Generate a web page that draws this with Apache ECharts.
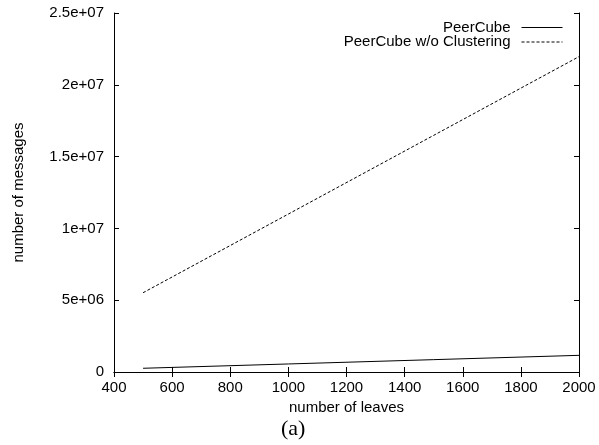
<!DOCTYPE html>
<html>
<head>
<meta charset="utf-8">
<script src="https://cdn.jsdelivr.net/npm/echarts@6/dist/echarts.min.js"></script>
<style>
html,body{margin:0;padding:0;background:#fff;}
#chart{width:599px;height:445px;}
</style>
</head>
<body>
<div id="chart"></div>
<script>
var leaves = [500, 1000, 1500, 2000];
var peerCube = [260000, 560000, 860000, 1160000];
var peerCubeNoClustering = [5520000, 11000000, 16480000, 21960000];
var xTicks = [400, 600, 800, 1000, 1200, 1400, 1600, 1800, 2000];
var yTickLabels = {0: '0', 5000000: '5e+06', 10000000: '1e+07', 15000000: '1.5e+07', 20000000: '2e+07', 25000000: '2.5e+07'};

var FONT = '"Liberation Sans", Arial, Helvetica, sans-serif';
var chart = echarts.init(document.getElementById('chart'), null, {renderer: 'canvas'});

function pairs(xs, ys) { return xs.map(function (x, i) { return [x, ys[i]]; }); }

var axisLine = {show: true, lineStyle: {color: '#000', width: 1}};
var tick = {show: true, inside: true, length: 5, lineStyle: {color: '#000', width: 1}};

var legendCommon = {
  right: 31, align: 'right', orient: 'vertical',
  itemWidth: 41, itemHeight: 14, selectedMode: false,
  itemStyle: {color: 'rgba(0,0,0,0)', borderWidth: 0, opacity: 0},
  lineStyle: {width: 1},
  textStyle: {fontFamily: FONT, fontSize: 15, color: '#000', padding: [0, 6, 0, 0]}
};

chart.setOption({
  animation: false,
  backgroundColor: '#fff',
  grid: {left: 114, right: 20, top: 13, bottom: 73, containLabel: false},
  xAxis: [{
    type: 'value', min: xTicks[0], max: xTicks[xTicks.length - 1], interval: 200,
    name: 'number of leaves', nameLocation: 'middle', nameGap: 28,
    nameTextStyle: {fontFamily: FONT, fontSize: 15, color: '#000'},
    axisLine: axisLine, axisTick: tick,
    axisLabel: {fontFamily: FONT, fontSize: 15, color: '#000', margin: 8,
      formatter: function (v) { return String(v); }},
    splitLine: {show: false}
  }, {
    type: 'value', position: 'top', min: xTicks[0], max: xTicks[xTicks.length - 1], interval: 200,
    axisLine: axisLine, axisTick: tick, axisLabel: {show: false}, splitLine: {show: false}
  }],
  yAxis: [{
    type: 'value', min: 0, max: 25000000, interval: 5000000,
    name: 'number of messages', nameLocation: 'middle', nameGap: 88, nameRotate: 90,
    nameTextStyle: {fontFamily: FONT, fontSize: 15, color: '#000'},
    axisLine: axisLine, axisTick: tick,
    axisLabel: {fontFamily: FONT, fontSize: 15, color: '#000', margin: 10,
      formatter: function (v) { return yTickLabels[v] !== undefined ? yTickLabels[v] : ''; }},
    splitLine: {show: false}
  }, {
    type: 'value', position: 'right', min: 0, max: 25000000, interval: 5000000,
    axisLine: axisLine, axisTick: tick, axisLabel: {show: false}, splitLine: {show: false}
  }],
  legend: [
    Object.assign({data: ['PeerCube'], top: 15}, legendCommon),
    Object.assign({data: ['PeerCube w/o Clustering'], top: 29.5}, legendCommon)
  ],
  graphic: [{
    type: 'text', left: 281, top: 418,
    style: {text: '(a)', fontFamily: '"Liberation Serif", "DejaVu Serif", serif', fontSize: 22, fill: '#000'}
  }],
  series: [{
    name: 'PeerCube', type: 'line', symbol: 'none',
    data: pairs(leaves, peerCube),
    lineStyle: {color: '#000', width: 1, type: 'solid'},
    itemStyle: {color: '#000'}
  }, {
    name: 'PeerCube w/o Clustering', type: 'line', symbol: 'none',
    data: pairs(leaves, peerCubeNoClustering),
    lineStyle: {color: '#000', width: 1, type: [3, 2]},
    itemStyle: {color: '#000'}
  }]
});
</script>
</body>
</html>
